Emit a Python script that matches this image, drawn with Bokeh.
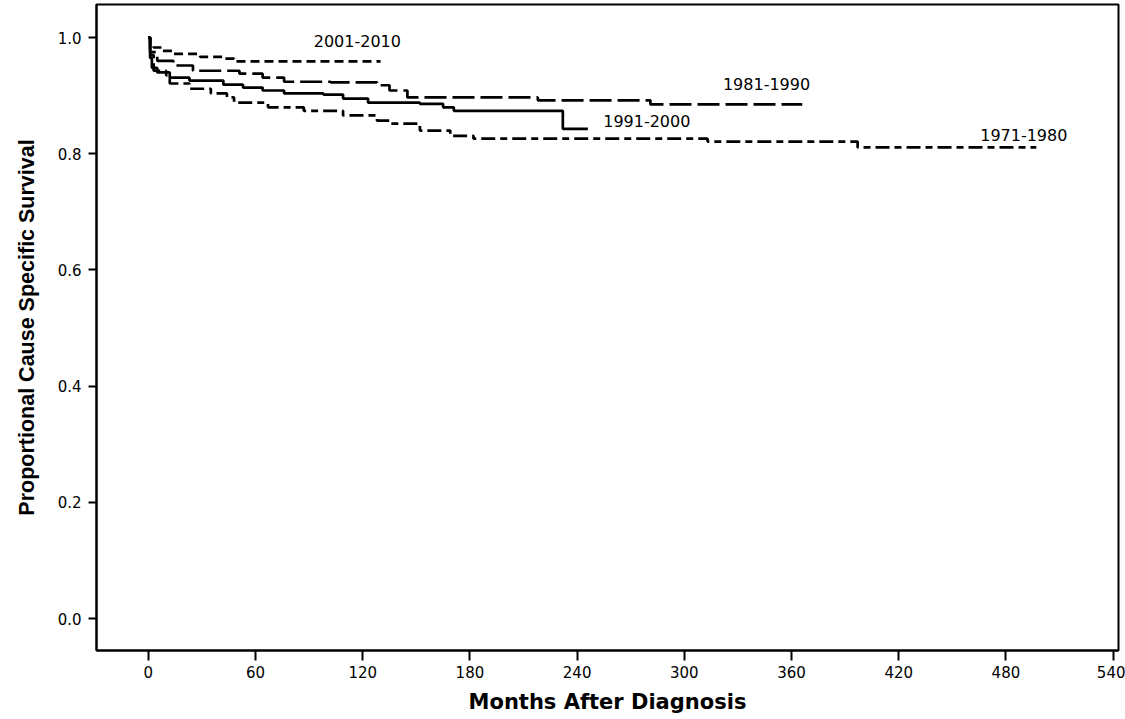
from bokeh.plotting import figure
from bokeh.models import Range1d, FixedTicker, ColumnDataSource, CustomJSTickFormatter
from bokeh.core.properties import value
from bokeh.embed import file_html
from bokeh.resources import INLINE

# Kaplan-Meier style step data (months, survival)
t_2001 = [0, 1, 3, 8, 14, 29, 42, 48, 130]
s_2001 = [1.0, 0.99, 0.983, 0.977, 0.972, 0.967, 0.964, 0.959, 0.959]

t_1981 = [0, 1, 5, 14, 25, 51, 64, 76, 102, 128, 135, 145, 218, 281, 366]
s_1981 = [1.0, 0.975, 0.960, 0.952, 0.943, 0.938, 0.931, 0.924, 0.923, 0.918, 0.909, 0.897, 0.892, 0.885, 0.885]

t_1991 = [0, 1, 2, 5, 12, 23, 42, 53, 64, 76, 98, 109, 123, 152, 165, 171, 232, 246]
s_1991 = [1.0, 0.965, 0.948, 0.940, 0.931, 0.926, 0.919, 0.914, 0.909, 0.904, 0.902, 0.895, 0.888, 0.886, 0.880, 0.874, 0.843, 0.843]

t_1971 = [0, 1, 3, 10, 12, 23, 35, 44, 48, 67, 87, 109, 128, 135, 152, 169, 182, 313, 397, 497]
s_1971 = [1.0, 0.97, 0.943, 0.935, 0.921, 0.912, 0.904, 0.897, 0.888, 0.880, 0.874, 0.866, 0.857, 0.852, 0.840, 0.831, 0.826, 0.821, 0.811, 0.811]

label_text = ["2001-2010", "1981-1990", "1991-2000", "1971-1980"]
label_x = [117, 346, 279, 490]
label_y = [0.995, 0.921, 0.857, 0.833]

x_ticks = [0, 60, 120, 180, 240, 300, 360, 420, 480, 540]
y_ticks = [0.0, 0.2, 0.4, 0.6, 0.8, 1.0]

p = figure(width=1125, height=719, output_backend="svg", toolbar_location=None,
           x_range=Range1d(-29, 543), y_range=Range1d(-0.055, 1.057),
           min_border_left=96, min_border_right=7, min_border_top=4, min_border_bottom=69)

p.grid.visible = False
p.background_fill_color = "white"
p.border_fill_color = "white"
p.outline_line_color = "black"
p.outline_line_width = 2

lw = 2.7
p.step(t_2001, s_2001, mode="after", line_color="black", line_width=lw, line_dash="9 5")
p.step(t_1981, s_1981, mode="after", line_color="black", line_width=lw, line_dash="22 6")
p.step(t_1991, s_1991, mode="after", line_color="black", line_width=lw)
p.step(t_1971, s_1971, mode="after", line_color="black", line_width=lw, line_dash="14 5 7 5")

src = ColumnDataSource(dict(x=label_x, y=label_y, t=label_text))
p.text("x", "y", text="t", source=src, text_align="center", text_baseline="middle",
       text_font=value("DejaVu Sans"), text_font_size="16px", text_color="black")

xa = p.xaxis[0]
xa.ticker = FixedTicker(ticks=x_ticks)
xa.axis_label = "Months After Diagnosis"
xa.axis_label_text_font = "DejaVu Sans"
xa.axis_label_text_font_style = "bold"
xa.axis_label_text_font_size = "21px"
xa.axis_label_text_color = "black"
xa.axis_label_standoff = 9
xa.major_label_text_font = "DejaVu Sans"
xa.major_label_text_font_size = "15px"
xa.major_label_text_color = "black"
xa.major_label_standoff = 5
xa.major_tick_out = 10
xa.major_tick_in = 0
xa.minor_tick_out = 0
xa.minor_tick_in = 0
xa.axis_line_width = 2
xa.major_tick_line_width = 2

ya = p.yaxis[0]
ya.ticker = FixedTicker(ticks=y_ticks)
ya.formatter = CustomJSTickFormatter(code="return tick.toFixed(1);")
ya.axis_label = "Proportional Cause Specific Survival"
ya.axis_label_text_font = "Liberation Sans"
ya.axis_label_text_font_style = "bold"
ya.axis_label_text_font_size = "21.5px"
ya.axis_label_text_color = "black"
ya.axis_label_standoff = 16
ya.major_label_text_font = "DejaVu Sans"
ya.major_label_text_font_size = "15px"
ya.major_label_text_color = "black"
ya.major_label_standoff = 7
ya.major_label_orientation = "horizontal"
ya.major_tick_out = 8
ya.major_tick_in = 0
ya.minor_tick_out = 0
ya.minor_tick_in = 0
ya.axis_line_width = 2
ya.major_tick_line_width = 2

open("out.html", "w").write(file_html(p, INLINE))
